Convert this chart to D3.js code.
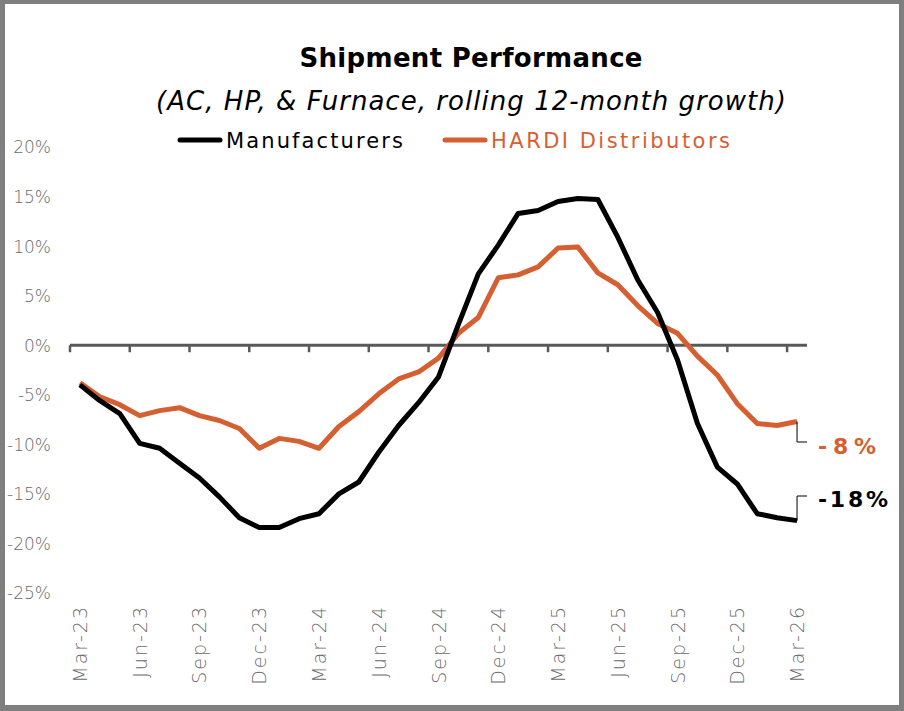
<!DOCTYPE html>
<html lang="en">
<head>
  <meta charset="UTF-8">
  <title>Shipment Performance</title>
  <script src="https://d3js.org/d3.v7.min.js"></script>
  <style>
    html, body { margin: 0; padding: 0; background: #7f7f7f; }
    svg { display: block; }
    .tick-label { font-family: "DejaVu Sans", sans-serif; font-weight: 200; fill: #6a6a6a; }
  </style>
</head>
<body>
  <svg></svg>
  <script>
    const width = 904;
    const height = 711;

    // monthly categories, Mar-23 .. Mar-26
    const months = [
      "Mar-23","Apr-23","May-23","Jun-23","Jul-23","Aug-23","Sep-23","Oct-23","Nov-23","Dec-23",
      "Jan-24","Feb-24","Mar-24","Apr-24","May-24","Jun-24","Jul-24","Aug-24","Sep-24","Oct-24",
      "Nov-24","Dec-24","Jan-25","Feb-25","Mar-25","Apr-25","May-25","Jun-25","Jul-25","Aug-25",
      "Sep-25","Oct-25","Nov-25","Dec-25","Jan-26","Feb-26","Mar-26"
    ];
    const tickMonths = ["Mar-23","Jun-23","Sep-23","Dec-23","Mar-24","Jun-24","Sep-24","Dec-24",
                        "Mar-25","Jun-25","Sep-25","Dec-25","Mar-26"];

    // rolling 12-month growth, %
    const manufacturers = [
      -4.0, -5.6, -6.9, -9.9, -10.4, -11.9, -13.4, -15.3, -17.4, -18.4,
      -18.4, -17.5, -17.0, -15.0, -13.8, -10.8, -8.1, -5.8, -3.2, 2.1,
      7.2, 10.1, 13.3, 13.6, 14.5, 14.8, 14.7, 10.9, 6.6, 3.3,
      -1.5, -7.9, -12.3, -14.0, -17.0, -17.4, -17.7
    ];
    const hardi = [
      -3.8, -5.2, -6.0, -7.1, -6.6, -6.3, -7.1, -7.6, -8.4, -10.4,
      -9.4, -9.7, -10.4, -8.2, -6.7, -4.9, -3.4, -2.7, -1.3, 1.2,
      2.8, 6.8, 7.1, 7.9, 9.8, 9.9, 7.3, 6.1, 4.0, 2.2,
      1.2, -1.1, -3.0, -5.9, -7.9, -8.1, -7.7
    ];
    const yTicks = [20, 15, 10, 5, 0, -5, -10, -15, -20, -25];

    const black = "#000000";
    const orange = "#d65f31";

    const svg = d3.select("svg")
        .attr("width", width)
        .attr("height", height);

    // white card inside grey frame
    svg.append("rect")
        .attr("x", 5).attr("y", 4)
        .attr("width", 894).attr("height", 701)
        .attr("fill", "#fff");

    const x = d3.scaleBand().domain(months).range([70, 807]).paddingInner(0).paddingOuter(0);
    const xc = m => x(m) + x.bandwidth() / 2;
    const y = d3.scaleLinear().domain([-25, 20]).range([593, 147]);

    // title
    svg.append("text")
        .attr("x", 471).attr("y", 67)
        .attr("text-anchor", "middle")
        .attr("textLength", 343)
        .attr("lengthAdjust", "spacing")
        .style("font", "bold 26px 'DejaVu Sans', sans-serif")
        .attr("fill", "#000")
        .text("Shipment Performance");

    svg.append("text")
        .attr("x", 471).attr("y", 110)
        .attr("text-anchor", "middle")
        .attr("textLength", 630)
        .attr("lengthAdjust", "spacing")
        .style("font", "italic 26px 'DejaVu Sans', sans-serif")
        .attr("fill", "#000")
        .text("(AC, HP, & Furnace, rolling 12-month growth)");

    // legend
    const legend = [
      { name: "Manufacturers", color: black, x: 180, w: 177 },
      { name: "HARDI Distributors", color: orange, x: 445, w: 239 }
    ];
    const lg = svg.append("g").selectAll("g").data(legend).join("g");
    lg.append("line")
        .attr("x1", d => d.x).attr("x2", d => d.x + 40)
        .attr("y1", 140).attr("y2", 140)
        .attr("stroke", d => d.color)
        .attr("stroke-width", 5)
        .attr("stroke-linecap", "round");
    lg.append("text")
        .attr("x", d => d.x + 46).attr("y", 148)
        .attr("textLength", d => d.w)
        .attr("lengthAdjust", "spacing")
        .style("font", "21px 'DejaVu Sans', sans-serif")
        .attr("fill", d => d.color)
        .text(d => d.name);

    // y axis labels
    const yAxis = d3.axisLeft(y)
        .tickValues(yTicks)
        .tickSize(0)
        .tickPadding(0)
        .tickFormat(d => d + "%");
    const gy = svg.append("g")
        .attr("transform", "translate(51,0)")
        .call(yAxis);
    gy.select(".domain").remove();
    gy.selectAll("text")
        .attr("class", "tick-label")
        .style("font-size", "17px")
        .attr("dy", "0.35em");

    // x axis: line at 0 with ticks at band starts, labels at band centres
    const gx = svg.append("g").attr("transform", `translate(0,${y(0)})`);
    gx.append("line")
        .attr("x1", 70).attr("x2", 807)
        .attr("stroke", "#595959").attr("stroke-width", 3);
    gx.selectAll("line.tk").data(tickMonths).join("line")
        .attr("class", "tk")
        .attr("x1", d => x(d)).attr("x2", d => x(d))
        .attr("y1", 0).attr("y2", 7)
        .attr("stroke", "#595959").attr("stroke-width", 2.5);

    svg.append("g").selectAll("text").data(tickMonths).join("text")
        .attr("class", "tick-label")
        .attr("transform", d => `translate(${xc(d) + 7},605) rotate(-90)`)
        .attr("text-anchor", "end")
        .style("font-size", "19px")
        .style("letter-spacing", "2px")
        .text(d => d);

    // lines
    const line = d3.line()
        .x((d, i) => xc(months[i]))
        .y(d => y(d));

    const series = [
      { values: hardi, color: orange },
      { values: manufacturers, color: black }
    ];
    svg.append("g").selectAll("path").data(series).join("path")
        .attr("d", d => line(d.values))
        .attr("fill", "none")
        .attr("stroke", d => d.color)
        .attr("stroke-width", 5)
        .attr("stroke-linejoin", "round");

    // end labels with leader lines
    const last = months.length - 1;
    const lx = xc(months[last]);
    const ends = [
      { text: "-8%", color: orange, v: hardi[last], ly: 442, ty: 454, w: 58 },
      { text: "-18%", color: black, v: manufacturers[last], ly: 496, ty: 507, w: 70 }
    ];
    const eg = svg.append("g").selectAll("g").data(ends).join("g");
    eg.append("path")
        .attr("d", d => `M${lx},${y(d.v)} L${lx},${d.ly} L${lx + 10},${d.ly}`)
        .attr("fill", "none")
        .attr("stroke", "#000")
        .attr("stroke-width", 1);
    eg.append("text")
        .attr("x", 818).attr("y", d => d.ty)
        .attr("textLength", d => d.w)
        .attr("lengthAdjust", "spacing")
        .style("font", "bold 22px 'DejaVu Sans', sans-serif")
        .attr("fill", d => d.color)
        .text(d => d.text);
  </script>
</body>
</html>
